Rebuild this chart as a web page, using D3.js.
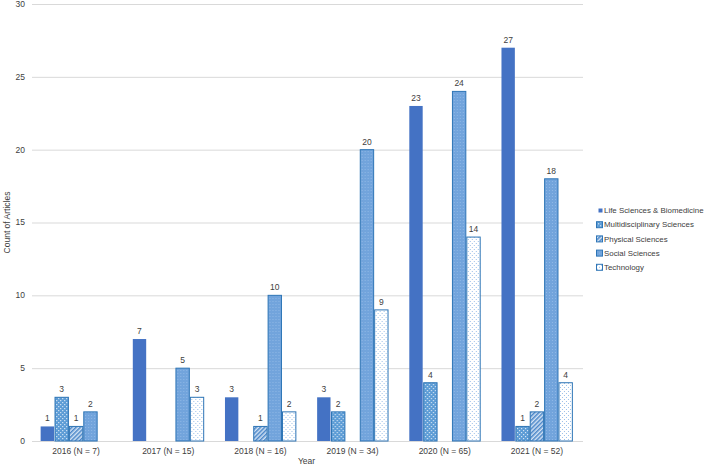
<!DOCTYPE html>
<html>
<head>
<meta charset="utf-8">
<script src="https://cdn.jsdelivr.net/npm/d3@7"></script>
<style>
  body { margin: 0; background: #fff; }
  text { font-family: "Liberation Sans", Arial, sans-serif; fill: #404040; }
</style>
</head>
<body>
<div id="chart"></div>
<script>
var years = ["2016 (N = 7)", "2017 (N = 15)", "2018 (N = 16)", "2019 (N = 34)", "2020 (N = 65)", "2021 (N = 52)"];
var seriesNames = ["Life Sciences & Biomedicine", "Multidisciplinary Sciences", "Physical Sciences", "Social Sciences", "Technology"];
var lifeSci = [1, 7, 3, 3, 23, 27];
var multiSci = [3, 0, 0, 2, 4, 1];
var physSci = [1, 0, 1, 0, 0, 2];
var socialSci = [2, 5, 10, 20, 24, 18];
var technology = [0, 3, 2, 9, 14, 4];
var yTicks = [0, 5, 10, 15, 20, 25, 30];

var seriesValues = [lifeSci, multiSci, physSci, socialSci, technology];

var svg = d3.select("#chart").append("svg")
    .attr("width", 709)
    .attr("height", 468);

var margin = {top: 4, right: 126, bottom: 27, left: 30};
var width = 709 - margin.left - margin.right;
var height = 468 - margin.top - margin.bottom;

// patterns
var defs = svg.append("defs");

var pMulti = defs.append("pattern").attr("id", "p-multi")
    .attr("patternUnits", "userSpaceOnUse").attr("width", 4).attr("height", 4);
pMulti.append("rect").attr("width", 4).attr("height", 4).attr("fill", "#5b9bd5");
pMulti.append("rect").attr("x", 0).attr("y", 0).attr("width", 1.2).attr("height", 1.2).attr("fill", "#d6e6f5");
pMulti.append("rect").attr("x", 2).attr("y", 2).attr("width", 1.2).attr("height", 1.2).attr("fill", "#d6e6f5");

var pPhys = defs.append("pattern").attr("id", "p-phys")
    .attr("patternUnits", "userSpaceOnUse").attr("width", 3).attr("height", 3)
    .attr("patternTransform", "rotate(45)");
pPhys.append("rect").attr("width", 3).attr("height", 3).attr("fill", "#d3e3f4");
pPhys.append("rect").attr("width", 1.5).attr("height", 3).attr("fill", "#4a86c8");

var pSocial = defs.append("pattern").attr("id", "p-social")
    .attr("patternUnits", "userSpaceOnUse").attr("width", 3).attr("height", 3);
pSocial.append("rect").attr("width", 3).attr("height", 3).attr("fill", "#72a4dc");
pSocial.append("rect").attr("width", 1).attr("height", 1).attr("fill", "#8fb8e6");

var pTech = defs.append("pattern").attr("id", "p-tech")
    .attr("patternUnits", "userSpaceOnUse").attr("width", 4).attr("height", 4);
pTech.append("rect").attr("width", 4).attr("height", 4).attr("fill", "#ffffff");
pTech.append("rect").attr("x", 1).attr("y", 1).attr("width", 1).attr("height", 1).attr("fill", "#9dc0e8");
pTech.append("rect").attr("x", 3).attr("y", 3).attr("width", 1).attr("height", 1).attr("fill", "#9dc0e8");

var fills = ["#4472c4", "url(#p-multi)", "url(#p-phys)", "url(#p-social)", "url(#p-tech)"];
var strokes = ["none", "#2e75b6", "#2e75b6", "#2e75b6", "#2e75b6"];

var g = svg.append("g")
    .attr("transform", "translate(" + margin.left + "," + margin.top + ")");

var x0 = d3.scaleBand().domain(years).range([0, width]).paddingInner(0.22).paddingOuter(0.11);
var x1 = d3.scaleBand().domain(d3.range(seriesNames.length)).range([0, x0.bandwidth()]);
var y = d3.scaleLinear().domain([0, 30]).range([height, 0]);

// gridlines
g.append("g")
    .selectAll("line")
    .data(yTicks)
    .enter().append("line")
    .attr("x1", 2).attr("x2", width)
    .attr("y1", function(d) { return y(d) + 0.5; })
    .attr("y2", function(d) { return y(d) + 0.5; })
    .attr("stroke", "#d9d9d9")
    .attr("stroke-width", 1);

// y tick labels
g.append("g")
    .selectAll("text")
    .data(yTicks)
    .enter().append("text")
    .attr("x", -5)
    .attr("y", function(d) { return y(d); })
    .attr("dy", "0.35em")
    .attr("text-anchor", "end")
    .attr("font-size", 8.5)
    .text(function(d) { return d; });

// bars
var groups = g.append("g")
    .selectAll("g")
    .data(years)
    .enter().append("g")
    .attr("transform", function(d) { return "translate(" + x0(d) + ",0)"; });

var cells = groups.selectAll("g")
    .data(function(d, i) {
        return seriesValues.map(function(vals, k) { return {k: k, value: vals[i]}; })
            .filter(function(c) { return c.value > 0; });
    })
    .enter().append("g");

cells.append("rect")
    .attr("x", function(d) { return x1(d.k) + 0.5; })
    .attr("y", function(d) { return y(d.value); })
    .attr("width", x1.bandwidth() - 1)
    .attr("height", function(d) { return height - y(d.value); })
    .attr("fill", function(d) { return fills[d.k]; })
    .attr("stroke", function(d) { return strokes[d.k]; })
    .attr("stroke-width", 1);

cells.append("text")
    .attr("x", function(d) { return x1(d.k) + x1.bandwidth() / 2; })
    .attr("y", function(d) { return y(d.value) - 5; })
    .attr("text-anchor", "middle")
    .attr("font-size", 8.5)
    .text(function(d) { return d.value; });

// x labels
g.append("g")
    .attr("transform", "translate(0," + height + ")")
    .selectAll("text")
    .data(years)
    .enter().append("text")
    .attr("x", function(d) { return x0(d) + x0.bandwidth() / 2; })
    .attr("y", 13)
    .attr("text-anchor", "middle")
    .attr("font-size", 8.5)
    .text(function(d) { return d; });

// axis titles
svg.append("text")
    .attr("x", margin.left + width / 2)
    .attr("y", 464)
    .attr("text-anchor", "middle")
    .attr("font-size", 8.5)
    .text("Year");

svg.append("text")
    .attr("transform", "translate(10," + (margin.top + height / 2) + ") rotate(-90)")
    .attr("text-anchor", "middle")
    .attr("font-size", 8.5)
    .text("Count of Articles");

// legend
var legend = svg.append("g")
    .attr("transform", "translate(596,207)")
    .selectAll("g")
    .data(seriesNames)
    .enter().append("g")
    .attr("transform", function(d, i) { return "translate(0," + i * 14.2 + ")"; });

legend.append("rect")
    .attr("x", function(d, i) { return i === 0 ? 2.5 : 0.5; })
    .attr("y", function(d, i) { return i === 0 ? 1.5 : 0.5; })
    .attr("width", function(d, i) { return i === 0 ? 4 : 6; })
    .attr("height", function(d, i) { return i === 0 ? 4 : 6; })
    .attr("fill", function(d, i) { return fills[i]; })
    .attr("stroke", function(d, i) { return strokes[i]; })
    .attr("stroke-width", 1);

legend.append("text")
    .attr("x", 8)
    .attr("y", 3.5)
    .attr("dy", "0.35em")
    .attr("font-size", 7.9)
    .text(function(d) { return d; });
</script>
</body>
</html>
